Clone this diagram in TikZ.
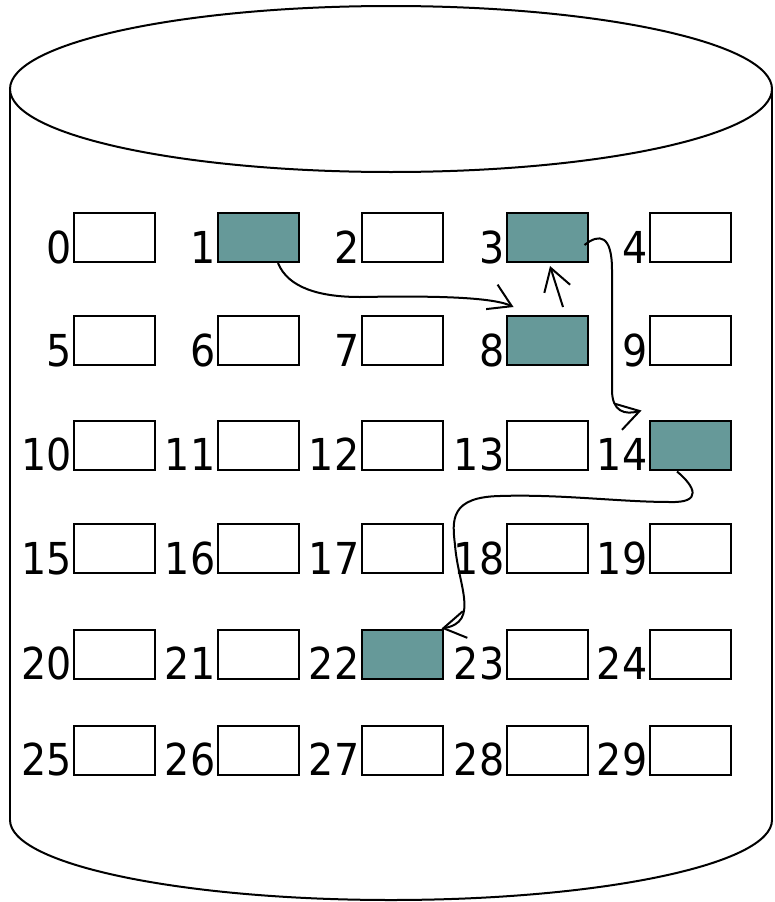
\documentclass[tikz,border=0pt]{standalone}
\usepackage{fontspec}
\setmainfont{DejaVu Sans Condensed}
\usetikzlibrary{arrows.meta,calc}
\definecolor{slot}{RGB}{102,153,153}
\begin{document}
\begin{tikzpicture}[x=1pt,y=-1pt,
  cyl/.style={line width=2pt},
  box/.style={draw, line width=2pt, minimum width=81pt, minimum height=49pt, inner sep=0pt, fill=white},
  s1/.style={fill=slot}, s3/.style={fill=slot}, s8/.style={fill=slot},
  s14/.style={fill=slot}, s22/.style={fill=slot},
  lbl/.style={anchor=base east, inner sep=0pt, font=\fontsize{44}{44}\selectfont},
  link/.style={line width=2pt, -{Straight Barb[length=22pt,width=27pt]}}]
\useasboundingbox (0,0) rectangle (774,902);
% cylinder
\draw[cyl] (391,89) ellipse [x radius=381, y radius=83];
\draw[cyl] (10,89) -- (10,820);
\draw[cyl] (772,89) -- (772,820);
\begin{scope}
  \clip (0,820) rectangle (774,902);
  \draw[cyl] (391,820) ellipse [x radius=381, y radius=80];
\end{scope}
% blocks
\foreach \ry [count=\r from 0] in {237.5,340.5,445,548.5,654,750} {
  \foreach \cx [count=\c from 0] in {114.5,258,402,547,690} {
    \pgfmathtruncatemacro\n{\r*5+\c}
    \node[box, s\n/.try] (b\n) at (\cx,\ry) {};
    \node[lbl] (l\n) at ($(b\n.south west)+(-1,0)$) {\n};
  }
}
% links
\draw[link] ($(b1.south)+(20,0)$) .. controls +(10,25) and (320,297) .. (360,297)
  .. controls (420,296) and (490,296) .. ($(b8.north west)+(8,-8)$);
\draw[link] ($(b8.north)+(16,-8)$) -- ($(b3.south)+(3,3)$);
\draw[link] ($(b3.east)+(-4,7.5)$) .. controls +(15,-12) and (612,235) .. (612,270)
  -- (612,390) .. controls (612,412) and (625,415) .. ($(b14.north west)+(-7,-9)$);
\draw[link] ($(b14.south)+(-13,1)$) .. controls +(18,15) and (703,503) .. (670,502)
  .. controls (620,502) and (560,494) .. (500,496)
  .. controls (450,497) and (452,520) .. (455,545)
  .. controls (458,585) and (480,622) .. ($(b22.north east)+(-2,0)$);
\end{tikzpicture}
\end{document}
